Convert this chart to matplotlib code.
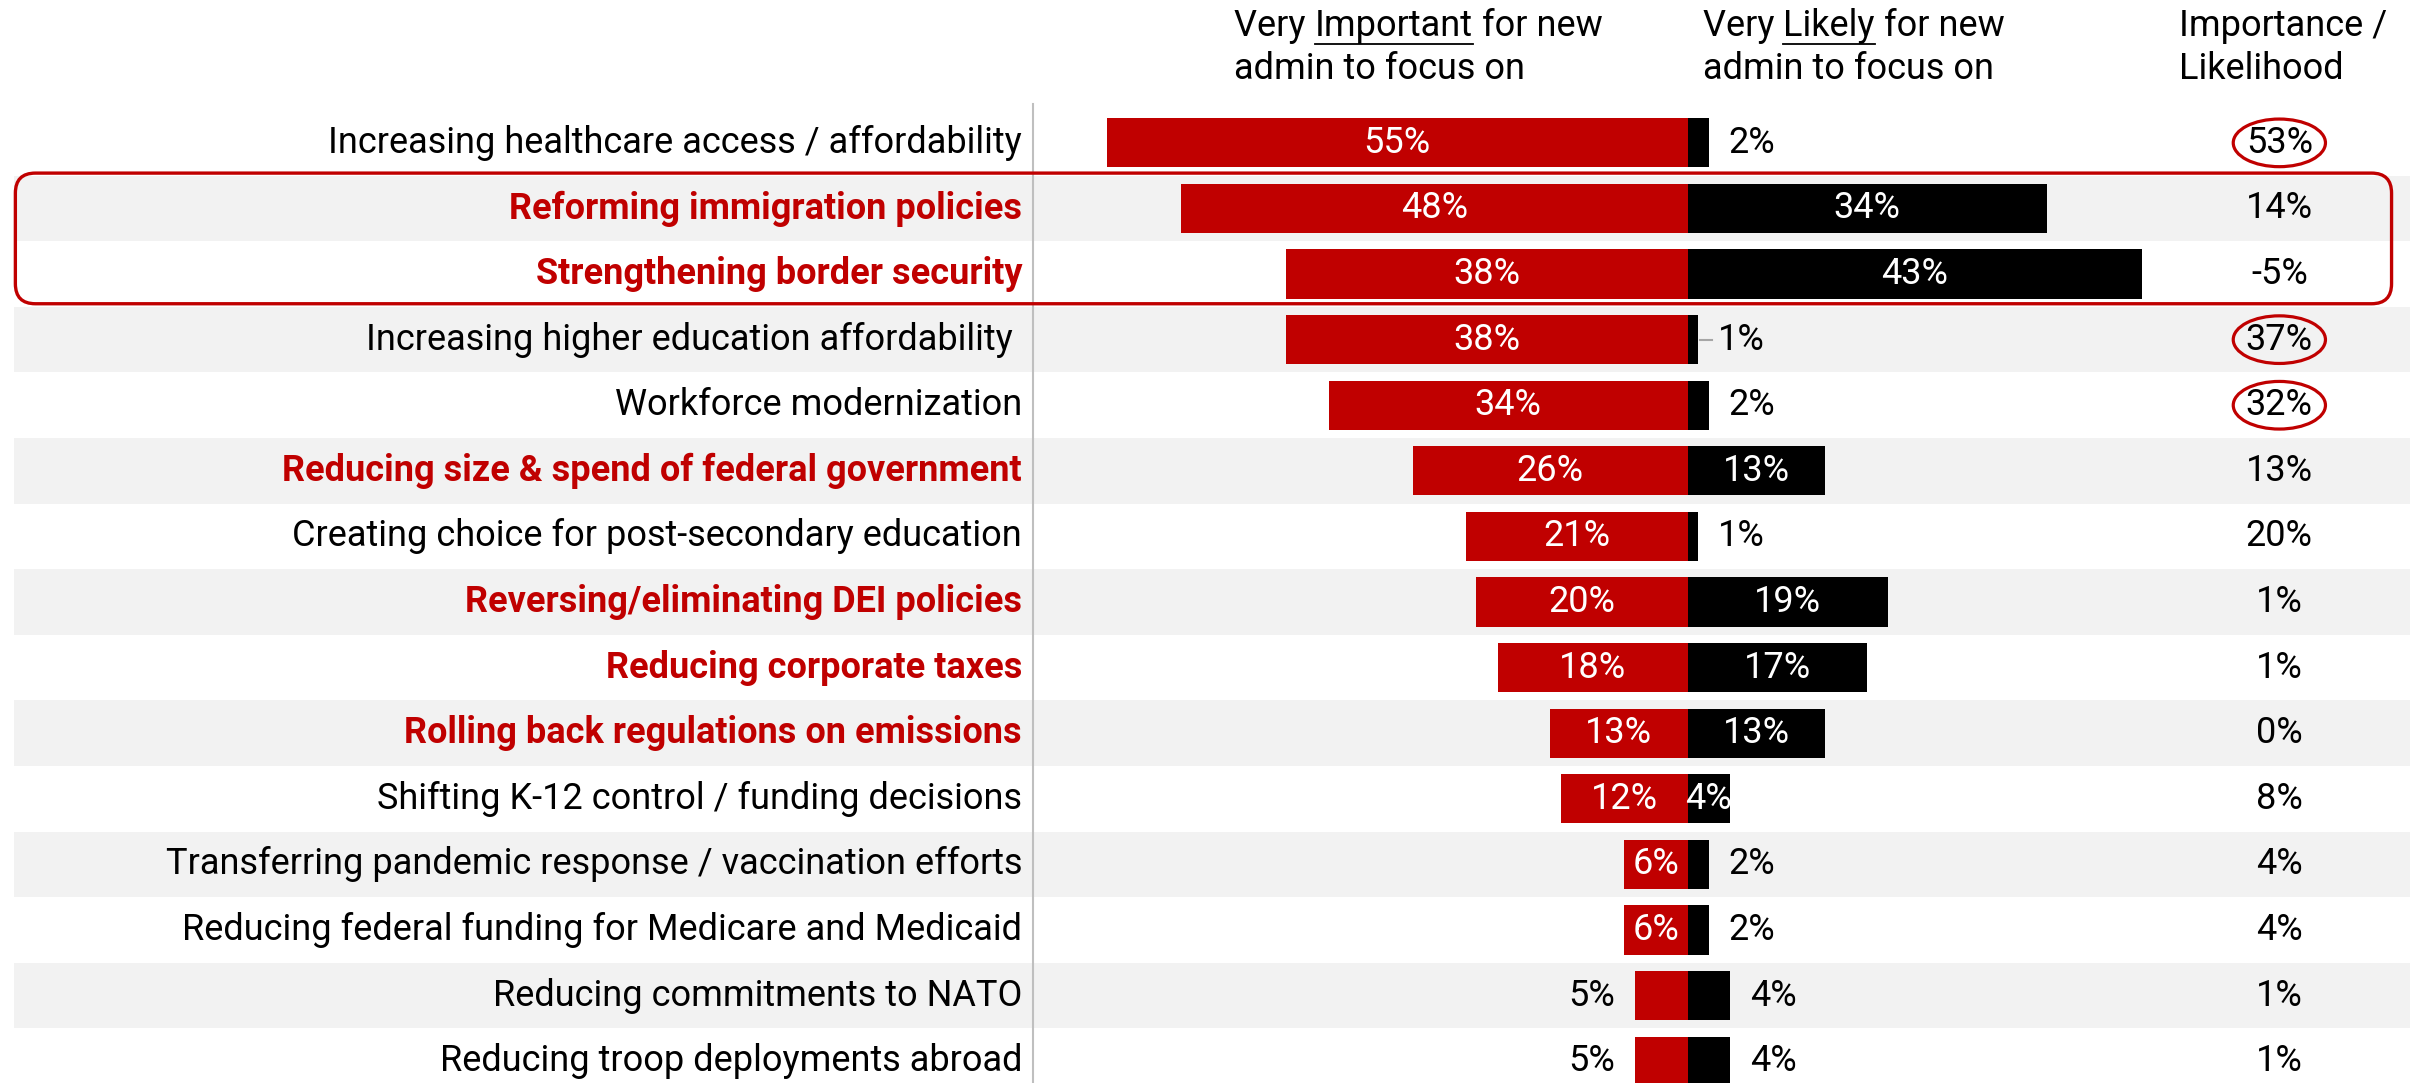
import matplotlib
matplotlib.use("Agg")
import matplotlib.pyplot as plt
from matplotlib.patches import FancyBboxPatch, Ellipse, Rectangle

# ---------------- data ----------------
categories = [
    "Increasing healthcare access / affordability",
    "Reforming immigration policies",
    "Strengthening border security",
    "Increasing higher education affordability ",
    "Workforce modernization",
    "Reducing size & spend of federal government",
    "Creating choice for post-secondary education",
    "Reversing/eliminating DEI policies",
    "Reducing corporate taxes",
    "Rolling back regulations on emissions",
    "Shifting K-12 control / funding decisions",
    "Transferring pandemic response / vaccination efforts",
    "Reducing federal funding for Medicare and Medicaid",
    "Reducing commitments to NATO",
    "Reducing troop deployments abroad",
]
important = [55, 48, 38, 38, 34, 26, 21, 20, 18, 13, 12, 6, 6, 5, 5]
likely = [2, 34, 43, 1, 2, 13, 1, 19, 17, 13, 4, 2, 2, 4, 4]
gap = [53, 14, -5, 37, 32, 13, 20, 1, 1, 0, 8, 4, 4, 1, 1]
highlighted = [False, True, True, False, False, True, False, True, True, True,
               False, False, False, False, False]
circled = [True, False, False, True, True] + [False] * 10
likely_inside = [False, True, True, False, False, True, False, True, True, True,
                 True, False, False, False, False]
leader = [False, False, False, True] + [False] * 11

RED = "#C00000"
BAND = "#F2F2F2"
FONT = "Roboto"
FS = 26

W, H = 2410, 1083
fig = plt.figure(figsize=(W / 100, H / 100), dpi=100)
ax = fig.add_axes([0, 0, 1, 1])

# mapping from (reference display px, 1568 x 705) into data units
PX = 6.87      # px per percent
X0 = 1098.0    # zero position
ROWH = 42.7
Y0 = 93.0
DW, DH = 1568.0, 705.0


def dx(px):
    return (px - X0) / PX


def dy(py):
    return (py - Y0) / ROWH


ax.set_xlim(dx(0), dx(DW))
ax.set_ylim(dy(DH), dy(0))
ax.axis("off")

n = len(categories)
# alternating bands
for i in range(n):
    if i % 2 == 1:
        ax.add_patch(Rectangle((dx(9), i - 0.5), dx(DW) - dx(9), 1.0,
                               facecolor=BAND, edgecolor="none", zorder=0))

# vertical separator
ax.plot([dx(672), dx(672)], [dy(68), dy(DH + 5)], color="#BFBFBF", lw=1.5,
        zorder=1, clip_on=False)

ys = list(range(n))
bh = 0.75
ax.barh(ys, [-v for v in important], height=bh, color=RED, zorder=2)
ax.barh(ys, likely, height=bh, color="black", zorder=2)

off = 13 / PX
for i in range(n):
    imp = important[i]
    lik = likely[i]
    # category label
    ax.text(dx(665), i, categories[i], ha="right", va="center",
            fontsize=FS, family=FONT,
            fontweight="bold" if highlighted[i] else "normal",
            color=RED if highlighted[i] else "black", zorder=3)
    # importance label
    if imp >= 6:
        ax.text(-imp / 2, i, f"{imp}%", ha="center", va="center", color="white",
                fontsize=FS, family=FONT, zorder=3)
    else:
        ax.text(-imp - off, i, f"{imp}%", ha="right", va="center", color="black",
                fontsize=FS, family=FONT, zorder=3)
    # likelihood label
    if likely_inside[i]:
        ax.text(lik / 2, i, f"{lik}%", ha="center", va="center", color="white",
                fontsize=FS, family=FONT, zorder=3)
    else:
        xl = lik + off
        if leader[i]:
            ax.plot([lik + 1 / PX, lik + 9 / PX], [i, i], color="#A6A6A6",
                    lw=1.5, zorder=3)
            xl = lik + 13 / PX
        ax.text(xl, i, f"{lik}%", ha="left", va="center", color="black",
                fontsize=FS, family=FONT, zorder=3)
    # gap column
    ax.text(dx(1483), i, f"{gap[i]}%", ha="center", va="center", color="black",
            fontsize=FS, family=FONT, zorder=3)
    if circled[i]:
        ax.add_patch(Ellipse((dx(1483), i), 60 / PX, 31 / ROWH, facecolor="none",
                             edgecolor=RED, lw=2.3, zorder=4))

# rounded highlight box (in inches so the corners stay round)
sc = W / DW / 100.0
bx0, by0, bx1, by1 = 10, 113, 1556, 198
ax_box = FancyBboxPatch((bx0 * sc, (DH - by1) * sc), (bx1 - bx0) * sc,
                        (by1 - by0) * sc,
                        boxstyle="round,pad=0,rounding_size=0.2",
                        transform=fig.dpi_scale_trans, facecolor="none",
                        edgecolor=RED, lw=2.4, zorder=5)
fig.patches.append(ax_box)

# headers
fig.canvas.draw()
renderer = fig.canvas.get_renderer()


def header_line(x, y, parts):
    """parts: list of (text, underline)"""
    cur = x
    for txt, ul in parts:
        t = ax.text(cur, y, txt, ha="left", va="center", fontsize=FS,
                    family=FONT, color="black")
        bb = t.get_window_extent(renderer=renderer)
        inv = ax.transData.inverted()
        (xa, ya), (xb, yb) = inv.transform([[bb.x0, bb.y0], [bb.x1, bb.y1]])
        if ul:
            yline = y + 0.27
            ax.plot([xa, xb], [yline, yline], color="black", lw=1.3)
        cur = xb


ya, yb = dy(17), dy(45)
header_line(dx(803), ya, [("Very ", False), ("Important", True), (" for new", False)])
header_line(dx(803), yb, [("admin to focus on", False)])
header_line(dx(1108), ya, [("Very ", False), ("Likely", True), (" for new", False)])
header_line(dx(1108), yb, [("admin to focus on", False)])
header_line(dx(1418), ya, [("Importance /", False)])
header_line(dx(1418), yb, [("Likelihood", False)])

fig.savefig("out.png", dpi=100)
